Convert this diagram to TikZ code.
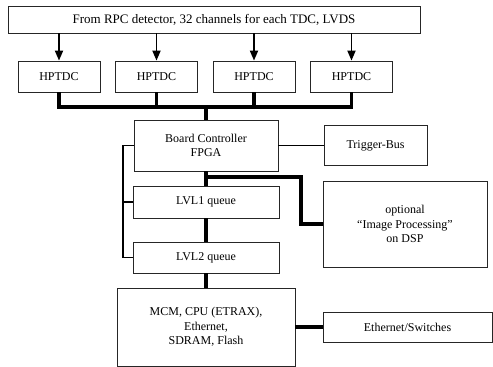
\documentclass[tikz,border=0pt]{standalone}
\usepackage{fontspec}
\setmainfont{Liberation Serif}
\usetikzlibrary{arrows.meta}
\begin{document}
\begin{tikzpicture}[x=1pt,y=-1pt,
  blk/.style={draw=black!85, line width=0.8pt, inner sep=0pt, align=center,
    font=\fontsize{12}{14.5}\selectfont},
  busline/.style={line width=3.6pt},
  thinline/.style={line width=0.9pt},
  sideline/.style={line width=1.8pt},
  feed/.style={line width=1.8pt, -{Triangle[length=10pt,width=8pt]}}]
\useasboundingbox (0,0) rectangle (493,367);
% boxes
\node[blk, minimum width=412pt, minimum height=27pt, font=\fontsize{13}{15}\selectfont]
  (src) at (214,19.5) {From RPC detector, 32 channels for each TDC, LVDS};
\node[blk, minimum width=82pt, minimum height=31pt] (h1) at (59,76.5) {HPTDC};
\node[blk, minimum width=82pt, minimum height=31pt] (h2) at (156.5,76.5) {HPTDC};
\node[blk, minimum width=82pt, minimum height=31pt] (h3) at (254,76.5) {HPTDC};
\node[blk, minimum width=82pt, minimum height=31pt] (h4) at (351.5,76.5) {HPTDC};
\node[blk, minimum width=144pt, minimum height=51pt] (bc) at (206,145.5)
  {Board Controller\\FPGA};
\node[blk, minimum width=103pt, minimum height=40pt] (trig) at (375.5,145.5) {Trigger-Bus};
\node[blk, minimum width=164pt, minimum height=86pt] (dsp) at (405,224)
  {optional\\“Image Processing”\\on DSP};
\node[blk, minimum width=146pt, minimum height=32pt] (l1) at (206,202) {LVL1 queue};
\node[blk, minimum width=146pt, minimum height=31pt] (l2) at (206,257.5) {LVL2 queue};
\node[blk, minimum width=178pt, minimum height=78pt] (mcm) at (206,327)
  {MCM, CPU (ETRAX),\\Ethernet,\\SDRAM, Flash};
\node[blk, minimum width=169pt, minimum height=30pt] (eth) at (407.5,327) {Ethernet/Switches};
% detector inputs
\foreach \h in {h1,h2,h3,h4}
  \draw[feed] (src.south -| \h) -- (\h.north);
% TDC readout bus
\coordinate (bus) at (206,107);
\draw[busline] (h1.south) |- (bus) -| (h4.south);
\draw[busline] (h2.south) -- (h2.south |- bus);
\draw[busline] (h3.south) -- (h3.south |- bus);
\draw[busline] (bus) -- (bc.north);
% data path
\draw[busline] (bc.south) -- (l1.north);
\draw[busline] (l1.south) -- (l2.north);
\draw[busline] (l2.south) -- (mcm.north);
\draw[busline] (mcm.east) -- (eth.west);
\coordinate (tap) at (206,177);
\coordinate (bend) at (301,177);
\draw[busline] (tap) -- (bend) |- (dsp.west);
% trigger link
\draw[thinline] (bc.east) -- (trig.west);
% control line to the queues
\coordinate (ctl) at (123,145.5);
\draw[sideline] (bc.west) -- (ctl) |- (l2.west);
\draw[sideline] (l1.west) -- (l1.west -| ctl);
\end{tikzpicture}
\end{document}
